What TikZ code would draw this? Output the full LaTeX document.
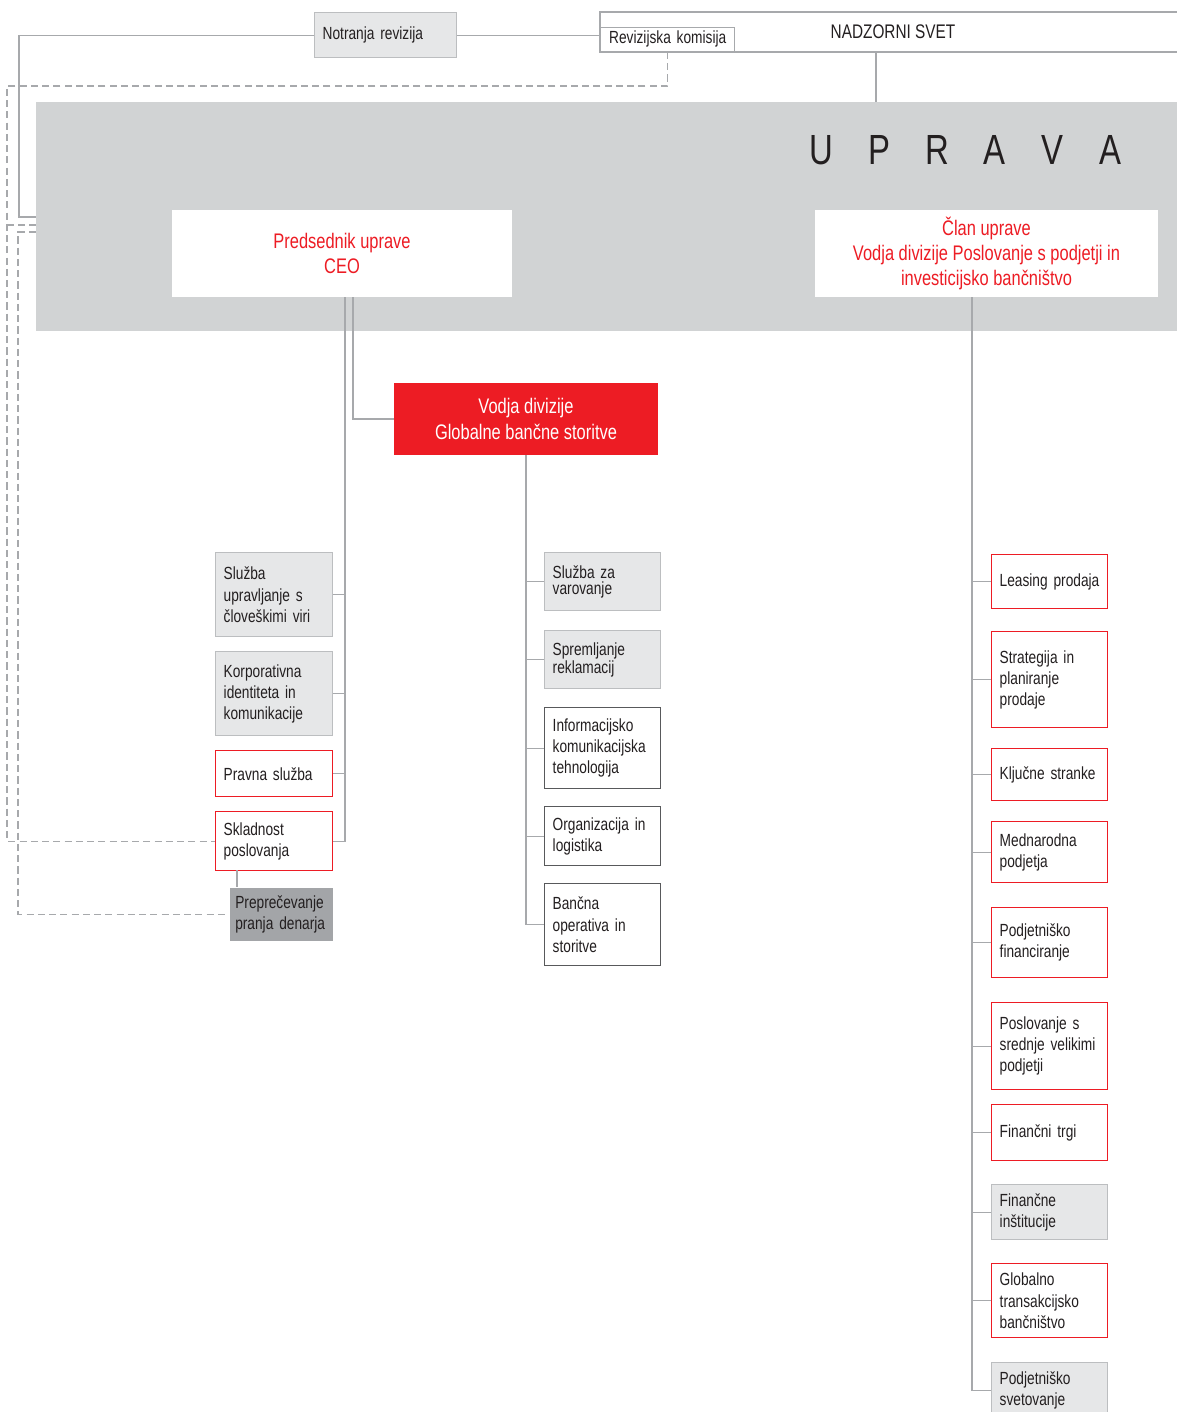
\documentclass[tikz,border=0pt]{standalone}
\usepackage{fontspec}
\setmainfont{Liberation Sans}[FakeStretch=0.78]
\usetikzlibrary{positioning}

\definecolor{boxgray}{HTML}{E6E7E8}
\definecolor{upragray}{HTML}{D1D3D4}
\definecolor{linegray}{HTML}{A7A9AC}
\definecolor{borgray}{HTML}{BCBEC0}
\definecolor{ppdgray}{HTML}{A3A5A8}
\definecolor{rdred}{HTML}{ED1C24}
\definecolor{txtdark}{HTML}{231F20}
\definecolor{darkbor}{HTML}{58595B}

\begin{document}
\begin{tikzpicture}[x=0.025cm, y=-0.025cm,
  conn/.style={draw=linegray, line width=1pt},
  dashln/.style={draw=linegray, line width=1pt, dash pattern=on 5pt off 3pt},
  unit/.style={anchor=north west, inner xsep=0.2cm, inner ysep=0pt, align=left,
    text=txtdark, font=\fontsize{12.5}{15}\selectfont, line width=1pt},
  graybox/.style={unit, fill=boxgray, draw=borgray},
  redbox/.style={unit, fill=white, draw=rdred},
  darkbox/.style={unit, fill=white, draw=darkbor},
  tight/.style={font=\fontsize{12.5}{11.5}\selectfont},
  lw/.style={text width=2.525cm},
  mw/.style={text width=2.5cm},
  head/.style={align=center, text=rdred, font=\fontsize{15}{18}\selectfont,
    fill=white, inner sep=0pt}]

  \useasboundingbox (0,0) rectangle (1176,1412);

  % top: supervisory board and audit
  \node[graybox, text width=3.15cm, minimum height=1.125cm] (notr) at (314,12) {Notranja revizija};
  \node[draw=linegray, line width=1pt, minimum width=14.65cm, minimum height=1cm, inner sep=0pt,
    text=txtdark, font=\fontsize{14}{17}\selectfont] (nsv) at (893,32) {NADZORNI SVET};
  \node[unit, draw=linegray, fill=white, align=center, text width=2.95cm, minimum height=0.6cm,
    anchor=south west] (rev) at (600,52) {Revizijska komisija};

  % management board
  \node[fill=upragray, anchor=north west, minimum width=29.1cm, minimum height=5.725cm,
    inner sep=0pt] (upr) at (36,102) {};
  \node[text=txtdark, font=\fontsize{30}{30}\selectfont, inner sep=0pt] (upratxt) at (966,150)
    {\makebox[41pt]{U}\makebox[41pt]{P}\makebox[41pt]{R}\makebox[41pt]{A}\makebox[41pt]{V}\makebox[41pt]{A}};
  \node[head, minimum width=8.5cm, minimum height=2.175cm] (ceo) at (342,253.5)
    {Predsednik uprave\\CEO};
  \node[head, minimum width=8.575cm, minimum height=2.175cm] (clan) at (986.5,253.5)
    {Član uprave\\Vodja divizije Poslovanje s podjetji in\\investicijsko bančništvo};

  \node[fill=rdred, text=white, align=center, font=\fontsize{15}{18}\selectfont,
    minimum width=6.6cm, minimum height=1.8cm, inner sep=0pt] (gbs) at (526,419)
    {Vodja divizije\\Globalne bančne storitve};

  % CEO staff units
  \node[graybox, lw, minimum height=2.1cm] (hr) at (215,552) {Služba\\upravljanje s\\človeškimi viri};
  \node[graybox, lw, minimum height=2.1cm] (kor) at (215,651) {Korporativna\\identiteta in\\komunikacije};
  \node[redbox, lw, minimum height=1.15cm] (prav) at (215,750) {Pravna služba};
  \node[redbox, lw, minimum height=1.475cm] (skl) at (215,811) {Skladnost\\poslovanja};
  \node[unit, fill=ppdgray, inner xsep=0.14cm, text width=2.3cm, minimum height=1.325cm] (ppd) at (229,887)
    {Preprečevanje\\pranja denarja};

  % global banking services
  \node[graybox, mw, tight, minimum height=1.45cm] (varo) at (544,552) {Služba za\\varovanje};
  \node[graybox, mw, tight, minimum height=1.45cm] (rekl) at (544,630) {Spremljanje\\reklamacij};
  \node[darkbox, mw, minimum height=2.025cm] (ikt) at (544,707) {Informacijsko\\komunikacijska\\tehnologija};
  \node[darkbox, mw, minimum height=1.475cm] (org) at (544,806) {Organizacija in\\logistika};
  \node[darkbox, mw, minimum height=2.05cm] (bos) at (544,883) {Bančna\\operativa in\\storitve};

  % corporate and investment banking
  \node[redbox, mw, minimum height=1.35cm] (lea) at (991,554) {Leasing prodaja};
  \node[redbox, mw, minimum height=2.4cm] (strat) at (991,631) {Strategija in\\planiranje\\prodaje};
  \node[redbox, mw, minimum height=1.3cm] (klj) at (991,748) {Ključne stranke};
  \node[redbox, mw, minimum height=1.525cm] (med) at (991,821) {Mednarodna\\podjetja};
  \node[redbox, mw, minimum height=1.75cm] (pfin) at (991,907) {Podjetniško\\financiranje};
  \node[redbox, mw, minimum height=2.175cm] (pos) at (991,1002) {Poslovanje s\\srednje velikimi\\podjetji};
  \node[redbox, mw, minimum height=1.4cm] (ftrg) at (991,1104) {Finančni trgi};
  \node[graybox, mw, minimum height=1.375cm] (finst) at (991,1184) {Finančne\\inštitucije};
  \node[redbox, mw, minimum height=1.85cm] (gtb) at (991,1263) {Globalno\\transakcijsko\\bančništvo};
  \node[graybox, mw, minimum height=1.375cm] (psvet) at (991,1362) {Podjetniško\\svetovanje};

  % connectors at the top
  \coordinate (nsvlink) at (876,52);
  \coordinate (sA) at (19,217);
  \coordinate (dA) at (7,86);
  \coordinate (dB) at (7,225);
  \coordinate (dC) at (18,232);
  \draw[conn] (notr.east) -- (notr.east -| nsv.west);
  \draw[conn] (nsvlink) -- (nsvlink |- upr.north);
  \draw[conn] (notr.west) -| (sA) -- (sA -| upr.west);
  \draw[dashln] (rev.south) |- (dA) |- (skl.west);
  \draw[dashln] (dB) -- (dB -| upr.west);
  \draw[dashln] (dC -| upr.west) -- (dC) |- (ppd.west);

  % spines
  \coordinate (spL) at (345,297);
  \coordinate (spG) at (353,297);
  \coordinate (spR) at (972,297);
  \coordinate (sklppd) at (237,870);
  \draw[conn] (spL) |- (skl.east);
  \foreach \n in {hr, kor, prav}
    \draw[conn] (\n.east) -- (\n.east -| spL);
  \draw[conn] (spG) |- (gbs.west);
  \draw[conn] (sklppd) -- (sklppd |- ppd.north);

  \draw[conn] (gbs.south) |- (bos.west);
  \foreach \n in {varo, rekl, ikt, org}
    \draw[conn] (\n.west) -- (\n.west -| gbs.south);

  \draw[conn] (spR) |- (psvet.west);
  \foreach \n in {lea, strat, klj, med, pfin, pos, ftrg, finst, gtb}
    \draw[conn] (\n.west) -- (\n.west -| spR);
\end{tikzpicture}
\end{document}
